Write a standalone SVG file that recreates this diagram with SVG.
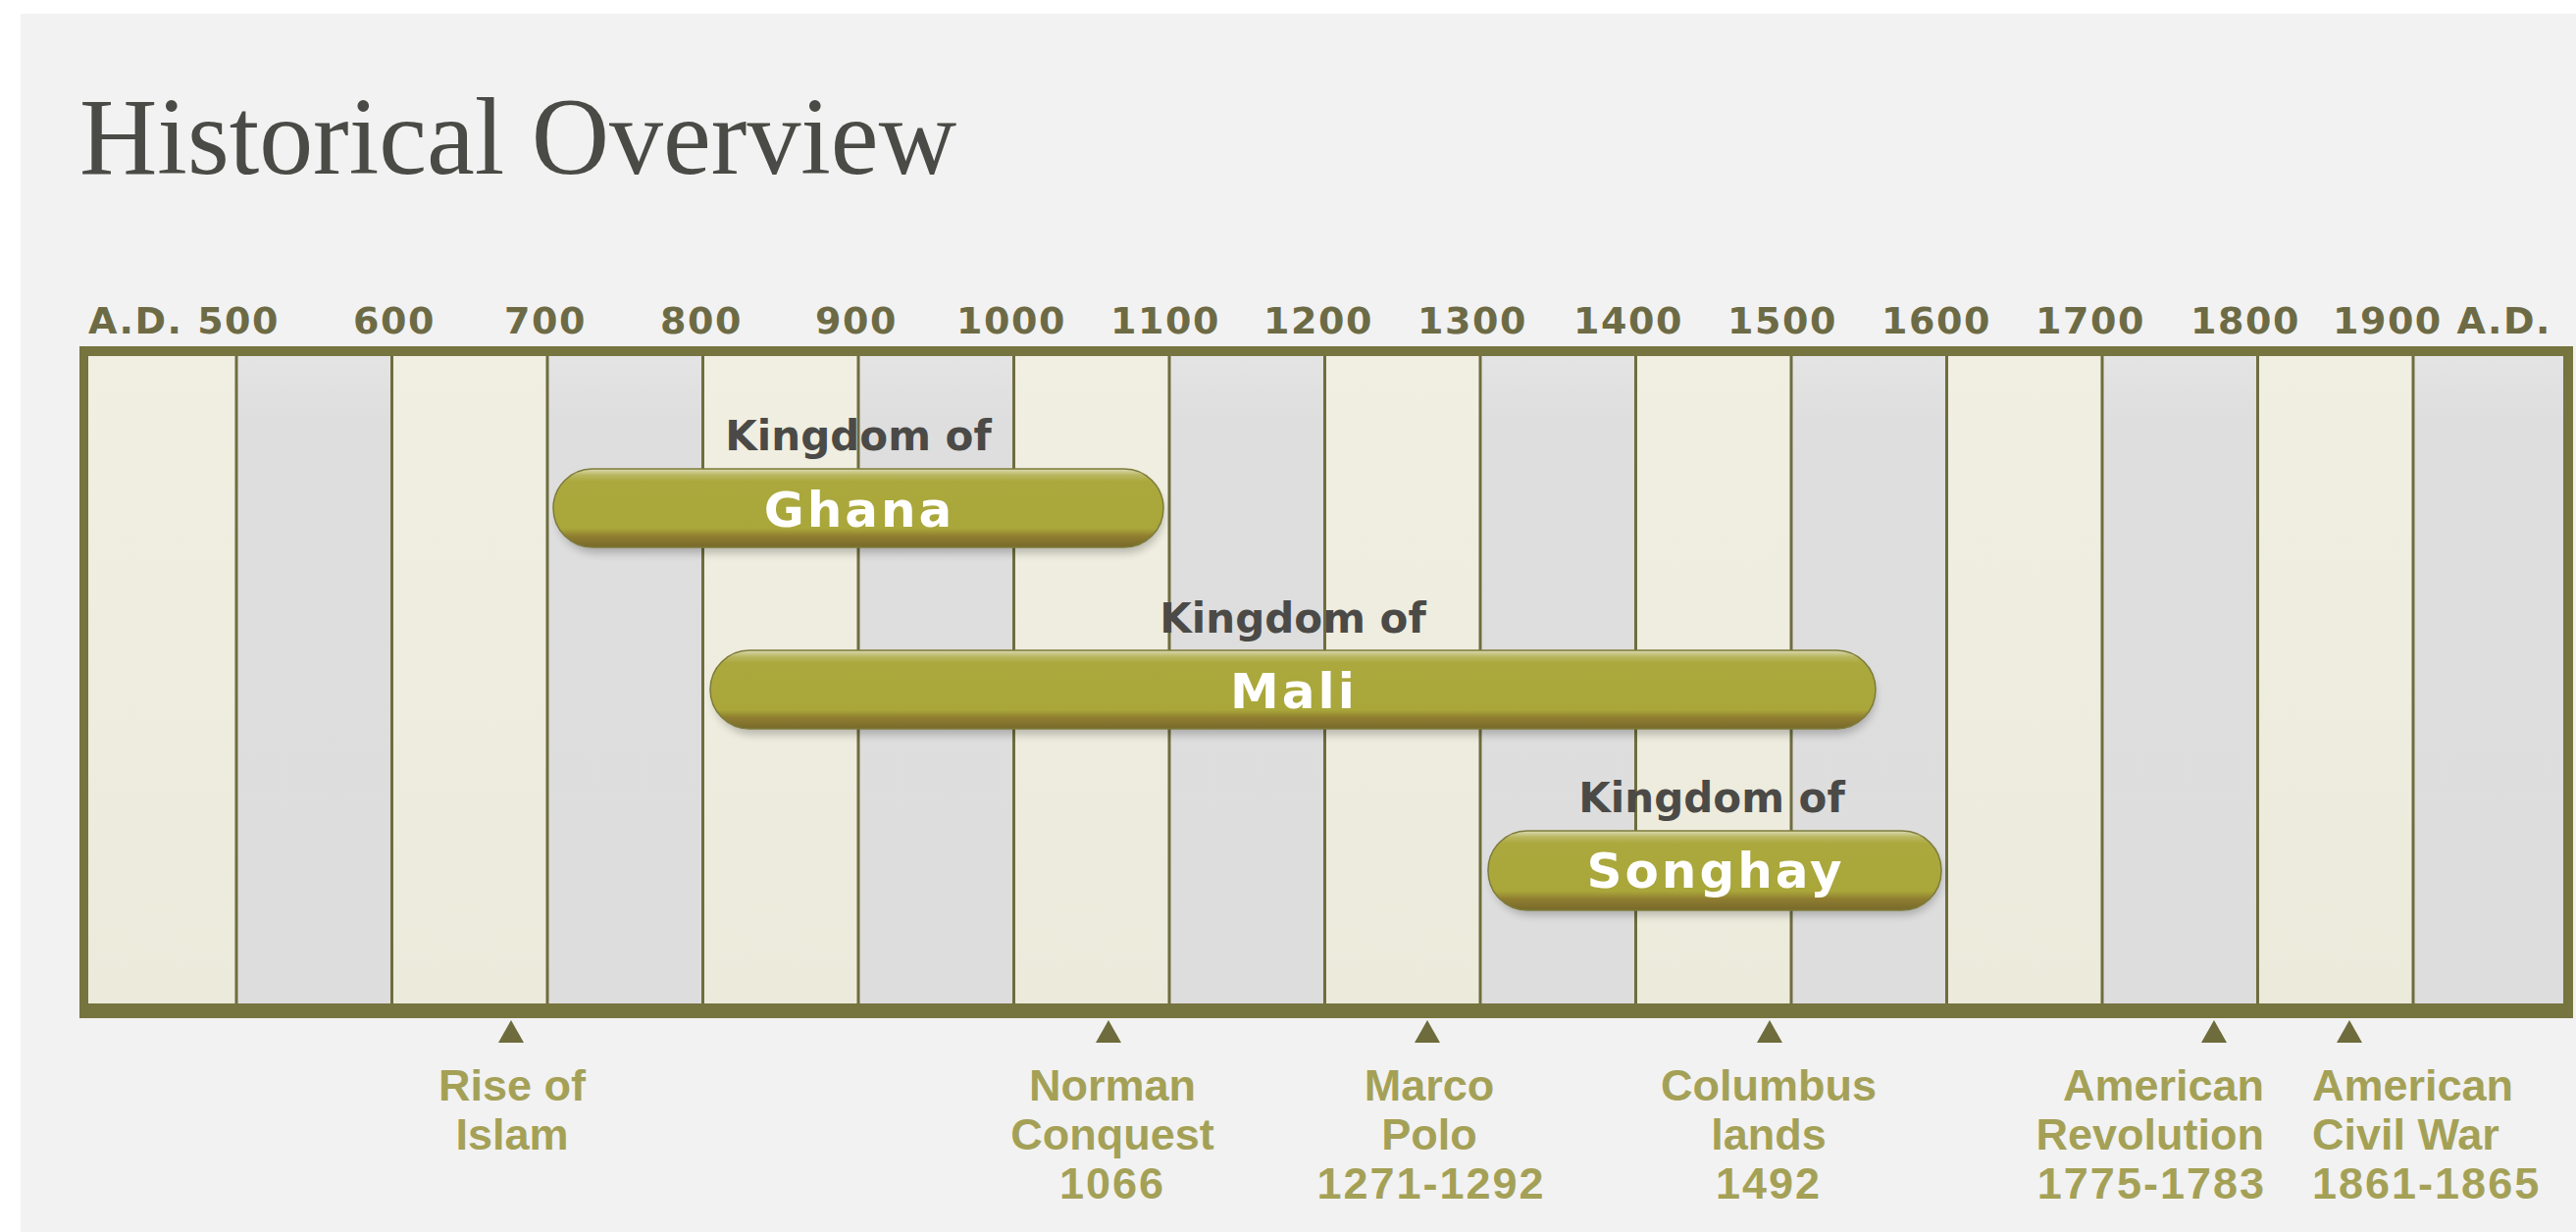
<svg xmlns="http://www.w3.org/2000/svg" width="2626" height="1256" viewBox="0 0 2626 1256">
  <defs>
    <linearGradient id="pillGrad" x1="0" y1="0" x2="0" y2="1">
      <stop offset="0" stop-color="#dcdab4"/>
      <stop offset="0.08" stop-color="#b9b760"/>
      <stop offset="0.16" stop-color="#aba93d"/>
      <stop offset="0.76" stop-color="#a9a63a"/>
      <stop offset="0.86" stop-color="#8f7d30"/>
      <stop offset="1" stop-color="#77692b"/>
    </linearGradient>
    <linearGradient id="creamGrad" x1="0" y1="0" x2="0" y2="1">
      <stop offset="0" stop-color="#f0efe2"/>
      <stop offset="1" stop-color="#eceadb"/>
    </linearGradient>
    <linearGradient id="grayGrad" x1="0" y1="0" x2="0" y2="1">
      <stop offset="0" stop-color="#e4e4e4"/>
      <stop offset="0.1" stop-color="#dedede"/>
      <stop offset="1" stop-color="#dddddd"/>
    </linearGradient>
    <filter id="shadow" x="-10%" y="-30%" width="120%" height="160%">
      <feGaussianBlur stdDeviation="4"/>
    </filter>
  </defs>
  <style>
    .title { font-family: "Liberation Serif", "Times New Roman", serif; font-size: 112px; fill: #4a4a46; }
    .year { font-family: "DejaVu Sans", Verdana, sans-serif; font-weight: bold; font-size: 38px; fill: #6d6b45; letter-spacing: 1.5px; }
    .kingdom { font-family: "DejaVu Sans", Verdana, sans-serif; font-weight: bold; font-size: 42px; fill: #4b4a47; text-anchor: middle; }
    .pilltext { font-family: "DejaVu Sans", Verdana, sans-serif; font-weight: bold; font-size: 50px; fill: #ffffff; text-anchor: middle; letter-spacing: 3px; }
    .pill { fill: url(#pillGrad); stroke: #7d7b3a; stroke-width: 1.5; }
    .pillshadow { fill: #000000; opacity: 0.22; filter: url(#shadow); }
    .event { font-family: "Liberation Sans", Arial, sans-serif; font-weight: bold; font-size: 45px; fill: #a4a157; }
    .date { letter-spacing: 2px; }
    .tri { fill: #6e6c3c; }
    .vline { stroke: #6f6d3e; stroke-width: 3; }
    .cream { fill: url(#creamGrad); }
    .gray { fill: url(#grayGrad); }
    .frame { fill: #76743f; }
  </style>

  <!-- background -->
  <rect x="0" y="0" width="2626" height="1256" fill="#ffffff"/>
  <rect x="21" y="14" width="2605" height="1242" fill="#f2f2f2"/>

  <text class="title" x="81" y="177" textLength="894" lengthAdjust="spacingAndGlyphs">Historical Overview</text>

  <!-- year labels -->
  <g id="year-labels">
    <text class="year" x="285" y="340" text-anchor="end">A.D. 500</text>
    <text class="year" x="402" y="340" text-anchor="middle">600</text>
    <text class="year" x="556" y="340" text-anchor="middle">700</text>
    <text class="year" x="715" y="340" text-anchor="middle">800</text>
    <text class="year" x="873" y="340" text-anchor="middle">900</text>
    <text class="year" x="1031" y="340" text-anchor="middle">1000</text>
    <text class="year" x="1188" y="340" text-anchor="middle">1100</text>
    <text class="year" x="1344" y="340" text-anchor="middle">1200</text>
    <text class="year" x="1501" y="340" text-anchor="middle">1300</text>
    <text class="year" x="1660" y="340" text-anchor="middle">1400</text>
    <text class="year" x="1817" y="340" text-anchor="middle">1500</text>
    <text class="year" x="1974" y="340" text-anchor="middle">1600</text>
    <text class="year" x="2131" y="340" text-anchor="middle">1700</text>
    <text class="year" x="2289" y="340" text-anchor="middle">1800</text>
    <text class="year" x="2378" y="340">1900 A.D.</text>
  </g>

  <!-- timeline frame and columns -->
  <g id="timeline">
    <rect class="frame" x="81" y="353" width="2542" height="685"/>
    <rect class="cream" x="90" y="363" width="151" height="660"/>
    <rect class="gray" x="241" y="363" width="158.5" height="660"/>
    <rect class="cream" x="399.5" y="363" width="158.5" height="660"/>
    <rect class="gray" x="558" y="363" width="158.5" height="660"/>
    <rect class="cream" x="716.5" y="363" width="158.5" height="660"/>
    <rect class="gray" x="875" y="363" width="158.5" height="660"/>
    <rect class="cream" x="1033.5" y="363" width="158.5" height="660"/>
    <rect class="gray" x="1192" y="363" width="158.5" height="660"/>
    <rect class="cream" x="1350.5" y="363" width="158.5" height="660"/>
    <rect class="gray" x="1509" y="363" width="158.5" height="660"/>
    <rect class="cream" x="1667.5" y="363" width="158.5" height="660"/>
    <rect class="gray" x="1826" y="363" width="158.5" height="660"/>
    <rect class="cream" x="1984.5" y="363" width="158.5" height="660"/>
    <rect class="gray" x="2143" y="363" width="158.5" height="660"/>
    <rect class="cream" x="2301.5" y="363" width="158.5" height="660"/>
    <rect class="gray" x="2460" y="363" width="153" height="660"/>
    <line class="vline" x1="241" y1="363" x2="241" y2="1023"/>
    <line class="vline" x1="399.5" y1="363" x2="399.5" y2="1023"/>
    <line class="vline" x1="558" y1="363" x2="558" y2="1023"/>
    <line class="vline" x1="716.5" y1="363" x2="716.5" y2="1023"/>
    <line class="vline" x1="875" y1="363" x2="875" y2="1023"/>
    <line class="vline" x1="1033.5" y1="363" x2="1033.5" y2="1023"/>
    <line class="vline" x1="1192" y1="363" x2="1192" y2="1023"/>
    <line class="vline" x1="1350.5" y1="363" x2="1350.5" y2="1023"/>
    <line class="vline" x1="1509" y1="363" x2="1509" y2="1023"/>
    <line class="vline" x1="1667.5" y1="363" x2="1667.5" y2="1023"/>
    <line class="vline" x1="1826" y1="363" x2="1826" y2="1023"/>
    <line class="vline" x1="1984.5" y1="363" x2="1984.5" y2="1023"/>
    <line class="vline" x1="2143" y1="363" x2="2143" y2="1023"/>
    <line class="vline" x1="2301.5" y1="363" x2="2301.5" y2="1023"/>
    <line class="vline" x1="2460" y1="363" x2="2460" y2="1023"/>
  </g>

  <!-- kingdoms -->
  <g id="ghana">
    <text class="kingdom" x="875" y="459">Kingdom of</text>
    <rect class="pillshadow" x="568" y="486" width="618" height="78" rx="39"/>
    <rect class="pill" x="564" y="478" width="622" height="80" rx="40"/>
    <text class="pilltext" x="876" y="537">Ghana</text>
  </g>
  <g id="mali">
    <text class="kingdom" x="1318" y="645">Kingdom of</text>
    <rect class="pillshadow" x="728" y="671" width="1184" height="78" rx="39"/>
    <rect class="pill" x="724" y="663" width="1188" height="80" rx="40"/>
    <text class="pilltext" x="1319" y="722">Mali</text>
  </g>
  <g id="songhay">
    <text class="kingdom" x="1745" y="828">Kingdom of</text>
    <rect class="pillshadow" x="1521" y="855" width="458" height="78" rx="39"/>
    <rect class="pill" x="1517" y="847" width="462" height="81" rx="40"/>
    <text class="pilltext" x="1749" y="905">Songhay</text>
  </g>

  <!-- events -->
  <g id="event-islam">
    <polygon class="tri" points="521,1040 508,1063 534,1063"/>
    <text class="event" x="522" y="1122" text-anchor="middle">Rise of</text>
    <text class="event" x="522" y="1172" text-anchor="middle">Islam</text>
  </g>
  <g id="event-norman">
    <polygon class="tri" points="1130,1040 1117,1063 1143,1063"/>
    <text class="event" x="1134" y="1122" text-anchor="middle">Norman</text>
    <text class="event" x="1134" y="1172" text-anchor="middle">Conquest</text>
    <text class="event date" x="1134" y="1222" text-anchor="middle">1066</text>
  </g>
  <g id="event-marco">
    <polygon class="tri" points="1455,1040 1442,1063 1468,1063"/>
    <text class="event" x="1457" y="1122" text-anchor="middle">Marco</text>
    <text class="event" x="1457" y="1172" text-anchor="middle">Polo</text>
    <text class="event date" x="1459" y="1222" text-anchor="middle">1271-1292</text>
  </g>
  <g id="event-columbus">
    <polygon class="tri" points="1804,1040 1791,1063 1817,1063"/>
    <text class="event" x="1803" y="1122" text-anchor="middle">Columbus</text>
    <text class="event" x="1803" y="1172" text-anchor="middle">lands</text>
    <text class="event date" x="1803" y="1222" text-anchor="middle">1492</text>
  </g>
  <g id="event-revolution">
    <polygon class="tri" points="2257,1040 2244,1063 2270,1063"/>
    <text class="event" x="2308" y="1122" text-anchor="end">American</text>
    <text class="event" x="2308" y="1172" text-anchor="end">Revolution</text>
    <text class="event date" x="2310" y="1222" text-anchor="end">1775-1783</text>
  </g>
  <g id="event-civilwar">
    <polygon class="tri" points="2395,1040 2382,1063 2408,1063"/>
    <text class="event" x="2357" y="1122">American</text>
    <text class="event" x="2357" y="1172">Civil War</text>
    <text class="event date" x="2357" y="1222">1861-1865</text>
  </g>
</svg>
